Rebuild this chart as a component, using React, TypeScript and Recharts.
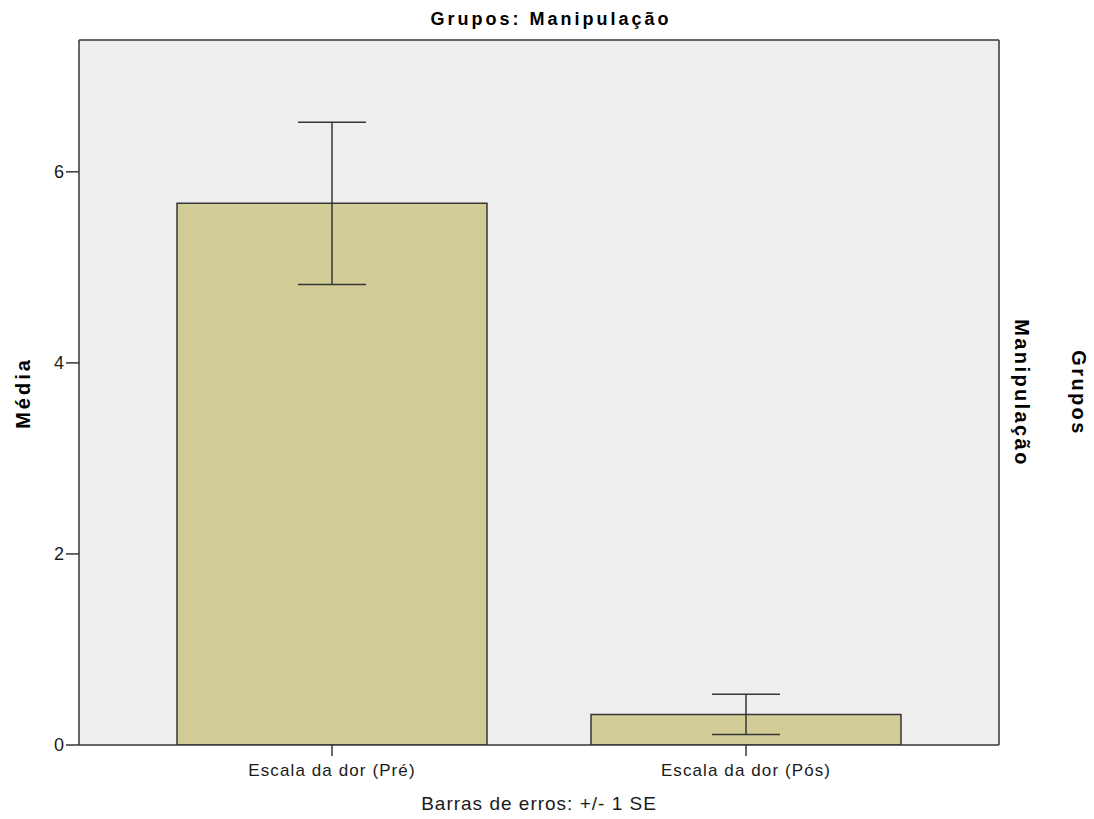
import { BarChart, Bar, XAxis, YAxis, ErrorBar, CartesianGrid, Label } from 'recharts';

const categories = ['Escala da dor (Pré)', 'Escala da dor (Pós)'];
const means = [5.67, 0.32];
const stdErrors = [0.85, 0.21];
const yTicks = [0, 2, 4, 6];

const data = categories.map((name, i) => ({ name, mean: means[i], se: stdErrors[i] }));

const font = '"Liberation Sans", Arial, sans-serif';
const ink = '#363636';

// frame: top and right edges of the plot box, taken from the grid offset
const topEdge = ({ offset }: any) => [offset.top];
const rightEdge = ({ offset }: any) => [offset.left + offset.width];

const rotatedLabel = {
  position: 'absolute' as const,
  top: 393,
  whiteSpace: 'nowrap' as const,
  fontSize: 20,
  fontWeight: 'bold' as const,
  letterSpacing: 2.4,
  color: '#000',
};

export default function App() {
  return (
    <div style={{ position: 'absolute', left: 0, top: 0, width: 1094, height: 819, background: '#fff', fontFamily: font }}>
      <BarChart
        width={1094}
        height={819}
        data={data}
        margin={{ top: 40, right: 95, bottom: 0, left: 0 }}
        barSize={310}
      >
        <CartesianGrid
          fill="#EEEEEE"
          fillOpacity={1}
          stroke={ink}
          strokeWidth={1.5}
          horizontalCoordinatesGenerator={topEdge}
          verticalCoordinatesGenerator={rightEdge}
        />
        <XAxis
          dataKey="name"
          height={74}
          padding={{ left: 46, right: 46 }}
          stroke={ink}
          strokeWidth={1.5}
          tickSize={11}
          tickMargin={8}
          tick={{ fill: '#1a1a1a', fontSize: 17, fontFamily: font, letterSpacing: 1.1 }}
        >
          <Label value="Barras de erros: +/- 1 SE" position="insideBottom" offset={9} fill="#1a1a1a" fontSize={19} letterSpacing={1} fontFamily={font} />
        </XAxis>
        <YAxis
          width={79}
          domain={[0, 7.38]}
          ticks={yTicks}
          allowDataOverflow
          stroke={ink}
          strokeWidth={1.5}
          tickSize={13}
          tickMargin={2}
          tick={{ fill: '#1a1a1a', fontSize: 18, fontFamily: font }}
        />
        <Bar dataKey="mean" fill="#D2CD96" stroke={ink} strokeWidth={1.5} isAnimationActive={false}>
          <ErrorBar dataKey="se" width={34} stroke={ink} strokeWidth={1.5} direction="y" />
        </Bar>
      </BarChart>
      <div style={{ position: 'absolute', top: 9, left: 91, width: 920, textAlign: 'center', fontSize: 18, fontWeight: 'bold', letterSpacing: 3, color: '#000' }}>
        Grupos: Manipulação
      </div>
      <div style={{ ...rotatedLabel, left: 23, letterSpacing: 3, transform: 'translate(-50%, -50%) rotate(-90deg)' }}>Média</div>
      <div style={{ ...rotatedLabel, left: 1021, transform: 'translate(-50%, -50%) rotate(90deg)' }}>Manipulação</div>
      <div style={{ ...rotatedLabel, left: 1078, transform: 'translate(-50%, -50%) rotate(90deg)' }}>Grupos</div>
    </div>
  );
}
